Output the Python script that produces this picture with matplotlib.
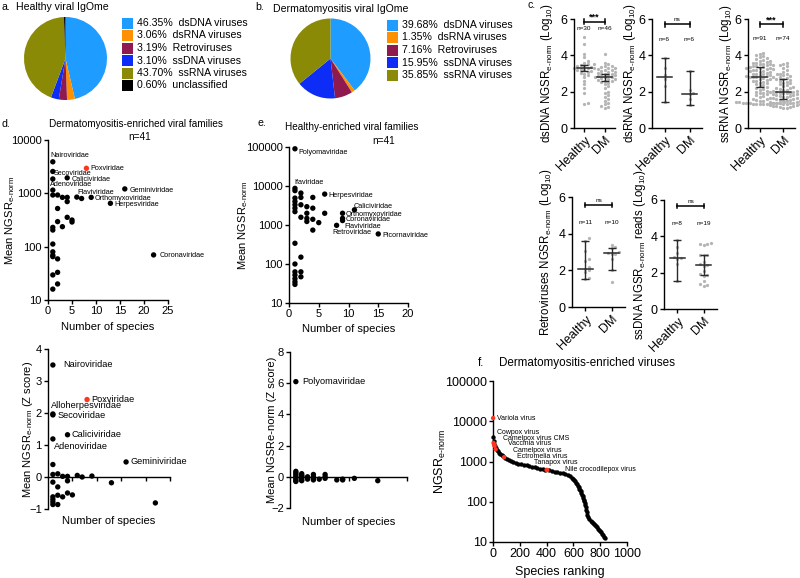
import numpy as np
import matplotlib
matplotlib.use('Agg')
import matplotlib.pyplot as plt
from matplotlib.patches import Rectangle
from matplotlib.ticker import NullLocator

plt.rcParams['font.family'] = ['Liberation Sans', 'DejaVu Sans']
plt.rcParams['mathtext.fontset'] = 'custom'
plt.rcParams['mathtext.rm'] = 'Liberation Sans'
plt.rcParams['mathtext.it'] = 'Liberation Sans:italic'
plt.rcParams['mathtext.bf'] = 'Liberation Sans:bold'
plt.rcParams['mathtext.default'] = 'regular'
plt.rcParams['axes.linewidth'] = 1.0

# ---------------- data ----------------
pie_names = ['dsDNA viruses', 'dsRNA viruses', 'Retroviruses', 'ssDNA viruses',
             'ssRNA viruses', 'unclassified']
healthy_pct = [46.35, 3.06, 3.19, 3.10, 43.70, 0.60]
dm_pct = [39.68, 1.35, 7.16, 15.95, 35.85]
pie_colors = ['#1e9cff', '#ff9000', '#8e1a50', '#0d2cf5', '#8a8a06', '#000000']

groups = ['Healthy', 'DM']
dsDNA_h = [5.0, 4.6, 4.1, 3.9, 3.7, 3.6, 3.5, 3.5, 3.45, 3.4, 3.4, 3.35, 3.3, 3.3, 3.3,
           3.25, 3.2, 3.2, 3.15, 3.1, 3.05, 3.0, 2.9, 2.8, 2.6, 2.4, 2.2, 1.9, 1.35, 1.3]
dsDNA_dm = [4.1, 3.6, 3.5, 3.4, 3.4, 3.35, 3.3, 3.3, 3.25, 3.2, 3.2, 3.15, 3.1, 3.1, 3.05,
            3.0, 3.0, 2.95, 2.9, 2.9, 2.85, 2.8, 2.8, 2.8, 2.75, 2.7, 2.7, 2.65, 2.6, 2.6,
            2.55, 2.5, 2.4, 2.3, 2.2, 2.0, 1.9, 1.8, 1.7, 1.6, 1.5, 1.4, 1.3, 1.2, 1.15, 1.1]
dsRNA_h = [3.85, 3.3, 2.9, 2.7, 2.3, 1.45]
dsRNA_dm = [3.15, 2.1, 1.9, 1.85, 1.6, 1.25]
ssRNA_h = [4.15, 4.1, 4.0, 3.95, 3.9, 3.85, 3.8, 3.75, 3.7, 3.7,
           3.65, 3.6, 3.6, 3.55, 3.5, 3.5, 3.45, 3.45, 3.4, 3.4,
           3.35, 3.35, 3.3, 3.3, 3.3, 3.25, 3.25, 3.2, 3.2, 3.15,
           3.15, 3.1, 3.1, 3.05, 3.0, 3.0, 2.95, 2.95, 2.9, 2.9,
           2.85, 2.85, 2.8, 2.8, 2.8, 2.8, 2.75, 2.7, 2.7, 2.65,
           2.6, 2.6, 2.55, 2.5, 2.45, 2.4, 2.35, 2.3, 2.25, 2.2,
           2.15, 2.1, 2.05, 2.0, 1.95, 1.9, 1.85, 1.8, 1.75, 1.7,
           1.65, 1.6, 1.6, 1.55, 1.5, 1.5, 1.45, 1.45, 1.45, 1.4,
           1.4, 1.4, 1.35, 1.35, 1.35, 1.35, 1.3, 1.3, 1.3, 1.3, 1.3]
ssRNA_dm = [3.6, 3.5, 3.45, 3.4, 3.3, 3.2, 3.1, 3.0, 2.95, 2.9,
            2.85, 2.8, 2.75, 2.7, 2.7, 2.65, 2.6, 2.55, 2.5, 2.45,
            2.4, 2.35, 2.3, 2.25, 2.2, 2.2, 2.15, 2.1, 2.1, 2.05,
            2.05, 2.0, 2.0, 2.0, 1.95, 1.95, 1.9, 1.9, 1.85, 1.85,
            1.8, 1.8, 1.75, 1.75, 1.7, 1.7, 1.65, 1.65, 1.6, 1.6,
            1.55, 1.55, 1.5, 1.5, 1.5, 1.45, 1.45, 1.4, 1.4, 1.4,
            1.35, 1.35, 1.3, 1.3, 1.3, 1.25, 1.25, 1.2, 1.2, 1.2,
            1.15, 1.15, 1.1, 1.1]
retro_h = [3.75, 3.6, 3.05, 2.6, 2.5, 2.2, 2.1, 2.0, 1.9, 1.6, 1.55]
retro_dm = [3.4, 3.25, 3.2, 3.0, 2.95, 2.9, 2.9, 2.6, 2.0, 1.35]
ssDNA_h = [3.8, 3.4, 3.1, 2.85, 2.8, 2.75, 2.5, 1.55]
ssDNA_dm = [3.65, 3.6, 3.6, 3.55, 3.0, 3.0, 2.95, 2.6, 2.45, 2.4, 2.35, 2.1, 1.9, 1.85,
            1.8, 1.55, 1.4, 1.3, 1.25]
# median and error bar limits (Healthy, DM)
dsDNA_med, dsDNA_lo, dsDNA_hi = [3.3, 2.8], [3.12, 2.6], [3.45, 3.0]
dsRNA_med, dsRNA_lo, dsRNA_hi = [2.8, 1.88], [1.45, 1.25], [3.85, 3.15]
ssRNA_med, ssRNA_lo, ssRNA_hi = [2.8, 1.98], [2.25, 1.6], [3.35, 2.72]
retro_med, retro_lo, retro_hi = [2.1, 2.95], [1.55, 2.0], [3.62, 3.2]
ssDNA_med, ssDNA_lo, ssDNA_hi = [2.8, 2.42], [1.55, 1.85], [3.8, 3.0]

# d: dermatomyositis-enriched families
dfam_names = ['Nairoviridae', 'Poxviridae', 'Secoviridae', 'Caliciviridae', '', 'Adenoviridae',
              'Geminiviridae', 'Flaviviridae', 'Orthomyxoviridae', '', 'Herpesviridae',
              'Coronaviridae', '', '', '', '', '', '', '', '', '', '', '', '', '', '', '', '',
              '', '', '', '', '', '']
dfam_species = [1, 8, 1, 4, 1, 1, 16, 6, 9, 7, 13, 22, 1, 2, 3, 4, 4, 2, 4, 5, 5, 2, 3, 1, 1,
                1, 1, 1, 1, 2, 1, 2, 2, 1]
dfam_ngsr = [3900, 2950, 2570, 1950, 1860, 1150, 1210, 850, 840, 800, 650, 70, 930, 930, 840,
             840, 700, 520, 355, 316, 290, 295, 237, 230, 205, 112, 80, 69, 65, 59, 29.5, 33,
             20, 16]
dz_names = ['Nairoviridae', 'Poxviridae', 'Alloherpesviridae', 'Secoviridae', 'Caliciviridae',
            'Adenoviridae', 'Geminiviridae', '', '', '', '', '', '', '', '', '', '', '', '',
            '', '', '', '', '', '', '', '', '', '']
dz_species = [1, 8, 1, 1, 4, 1, 16, 1, 1, 2, 3, 4, 6, 7, 9, 13, 1, 2, 1, 2, 3, 4, 5, 1, 1,
              2, 22, 1, 4]
dz_score = [3.5, 2.42, 1.97, 1.94, 1.32, 1.19, 0.47, 0.39, 0.08, 0.1, 0.02, 0.02, 0.05, 0.0,
            0.03, -0.18, -0.16, -0.31, -0.62, -0.57, -0.62, -0.5, -0.56, -0.78, -0.86, -0.86,
            -0.81, -0.7, -0.12]

# e: healthy-enriched families
hfam_names = ['Polyomaviridae', 'Ifaviridae', '', 'Herpesviridae', 'Caliciviridae',
              'Orthomyxoviridae', 'Coronaviridae', 'Retroviridae', 'Flaviviridae',
              'Picornaviridae'] + [''] * 29
hfam_species = [1, 1, 1, 6, 11, 9, 9, 9, 8, 15,
                1, 1, 1, 1, 1, 1, 1, 1, 1, 1, 1, 1,
                2, 2, 2, 2, 2, 2, 2,
                3, 3, 3, 3,
                4, 4, 4, 4,
                5, 6]
hfam_ngsr = [90000, 8700, 7600, 6200, 2450, 2000, 1480, 1300, 980, 590,
             4900, 4000, 3300, 2700, 2200, 340, 100, 63, 52, 42, 35, 30,
             6600, 5100, 3300, 1580, 150, 63, 47,
             2950, 2000, 1480, 1230,
             5100, 2700, 1400, 740,
             1150, 2000]
hz_names = ['Polyomaviridae'] + [''] * 30
hz_species = [1, 1, 1, 1, 1, 1, 1, 1, 1, 2, 2, 2, 2, 2, 2, 3, 3, 4, 4, 4, 4, 5, 6, 6, 6, 8,
              9, 9, 11, 15, 2]
hz_score = [6.1, 0.35, 0.25, 0.15, 0.05, -0.05, -0.15, -0.25, -0.3, 0.2, 0.1, 0.0, -0.1,
            -0.2, -0.25, 0.0, -0.15, 0.15, 0.0, -0.1, -0.2, -0.15, 0.15, 0.0, -0.1, -0.2,
            -0.15, -0.2, -0.1, -0.25, 0.05]

# f: dermatomyositis-enriched viruses (ranked)
rank_all = [2, 6, 10, 15, 20, 28, 36, 45, 55, 65, 75, 90, 105, 120, 135, 150, 170, 190, 210,
            230, 250, 270, 290, 310, 330, 350, 370, 390, 420, 440, 460, 480, 500, 520, 540,
            560, 575, 588, 598, 607, 615, 622, 628, 634, 640, 645, 650, 655, 660, 664, 668,
            672, 676, 680, 684, 688, 692, 696, 700, 705, 712, 720, 728, 736, 744, 752, 760,
            768, 776, 784, 792, 800, 808, 816, 824, 832, 838]
ngsr_all = [4100, 3300, 2800, 2450, 2200, 1950, 1800, 1650, 1520, 1420, 1340, 1250, 1150,
            1060, 1010, 970, 930, 890, 860, 830, 800, 770, 745, 720, 695, 670, 650, 630, 600,
            580, 560, 540, 520, 505, 485, 460, 430, 400, 370, 345, 320, 295, 270, 250, 230,
            210, 195, 180, 165, 150, 138, 125, 113, 103, 92, 82, 72, 63, 55, 47, 41, 37, 34,
            32, 30, 28, 26, 24.5, 23, 21.5, 20, 19, 17.5, 16, 15, 13.5, 12.5]
pox_names = ['Variola virus', 'Cowpox virus', 'Camelpox virus CMS', 'Vaccinia virus',
             'Camelpox virus', 'Ectromelia virus', 'Tanapox virus', 'Nile crocodilepox virus']
pox_rank = [1, 4, 8, 12, 20, 83, 400, 405]
pox_ngsr = [12000, 2900, 2600, 2450, 2000, 1280, 620, 610]

# ---------------- figure ----------------
W, H = 800, 578
fig = plt.figure(figsize=(W / 100, H / 100), dpi=100)


def axpx(box):
    x0, y0, x1, y1 = box
    return fig.add_axes([x0 / W, 1 - y1 / H, (x1 - x0) / W, (y1 - y0) / H])


ov = fig.add_axes([0, 0, 1, 1])
ov.set_xlim(0, W)
ov.set_ylim(H, 0)
ov.axis('off')

RED = '#ff3520'
GRAY = '#b5b5b5'


def style(ax, fs):
    for s in ['top', 'right']:
        ax.spines[s].set_visible(False)
    ax.tick_params(direction='out', length=3, width=1, labelsize=fs, pad=1.5)


def label_pos(ax, box, xl_y=None, yl_x=None):
    x0, y0, x1, y1 = box
    if xl_y is not None:
        ax.xaxis.set_label_coords(0.5, (y1 - xl_y) / (y1 - y0))
    if yl_x is not None:
        ax.yaxis.set_label_coords((yl_x - x0) / (x1 - x0), 0.5)


# ---- panel a / b pies ----
def draw_pie(center, r, vals, legend_x, legend_y0):
    cx, cy = center
    ax = axpx((cx - r, cy - r, cx + r, cy + r))
    ax.pie(vals, colors=pie_colors[:len(vals)], startangle=90, counterclock=False,
           radius=1, wedgeprops=dict(linewidth=0))
    ax.set_xlim(-1, 1)
    ax.set_ylim(-1, 1)
    ax.set_aspect('equal')
    ax.axis('off')
    for i, v in enumerate(vals):
        yy = legend_y0 + 12.5 * i
        ov.add_patch(Rectangle((legend_x, yy - 5.5), 11, 11, color=pie_colors[i], lw=0))
        ov.text(legend_x + 15, yy, f'{v:.2f}%  {pie_names[i]}', fontsize=7.6,
                va='center', ha='left')


draw_pie((65.5, 58.5), 41.5, healthy_pct, 122, 23)
draw_pie((330.5, 58.5), 40, dm_pct, 387, 25)
ov.text(1, 7, 'a.', fontsize=7.6, va='center')
ov.text(16, 7, 'Healthy viral IgOme', fontsize=7.6, va='center')
ov.text(255, 7, 'b.', fontsize=7.6, va='center')
ov.text(273, 9, 'Dermatomyositis viral IgOme', fontsize=7.6, va='center')
ov.text(528, 5, 'c.', fontsize=7.6, va='center')


# ---- panel c ----
def swarm_x(vals, center, sx, sy, d):
    vals = np.asarray(vals, float)
    order = np.argsort(vals)
    placed = []
    xs = np.zeros(len(vals))
    cands = [0.0]
    for j in range(1, 80):
        cands += [j * d * 0.5, -j * d * 0.5]
    for i in order:
        ypx = vals[i] * sy
        off = 0.0
        for off in cands:
            if all((off - px) ** 2 + (ypx - py) ** 2 >= d * d * 0.95 for px, py in placed):
                break
        placed.append((off, ypx))
        xs[i] = center + off / sx
    return xs


def draw_c(box, dh, dd, med, lo, hi, sig, ylabel, yl_x, n_y, br_y):
    ax = axpx(box)
    style(ax, 9)
    x0, y0, x1, y1 = box
    sx = (x1 - x0) / 2.0
    sy = (y1 - y0) / 6.0
    for k, d in enumerate([dh, dd]):
        xs = swarm_x(d, k, sx, sy, 3.4)
        ax.scatter(xs, d, s=5.5, color=GRAY, linewidths=0, zorder=2, clip_on=False)
        ax.text(k, n_y, f'n={len(d)}', fontsize=4.6, ha='center', va='center')
    hw = 7.5 / sx
    for k in range(2):
        ax.plot([k - hw, k + hw], [med[k], med[k]], color='#2a2a2a', lw=1.1, zorder=3)
        ax.errorbar([k], [med[k]], yerr=[[med[k] - lo[k]], [hi[k] - med[k]]], fmt='none',
                    ecolor='#2a2a2a', elinewidth=1.0, capsize=3, capthick=1.0, zorder=3)
    ax.plot([0, 1], [br_y, br_y], color='k', lw=1.1, clip_on=False)
    for k in range(2):
        ax.plot([k, k], [br_y - 0.13, br_y + 0.13], color='k', lw=1.1, clip_on=False)
    if sig == 'ns':
        ax.text(0.5, br_y + 0.12, sig, fontsize=4.6, ha='center', va='bottom')
    else:
        ax.text(0.5, br_y + 0.02, sig, fontsize=6.5, fontweight='bold', ha='center',
                va='bottom')
    ax.set_xlim(-0.5, 1.5)
    ax.set_ylim(0, 6)
    ax.set_yticks([0, 2, 4, 6])
    ax.set_xticks([0, 1])
    ax.set_xticklabels(groups, rotation=45, ha='right', rotation_mode='anchor')
    ax.set_ylabel(ylabel, fontsize=8.3, va='center')
    label_pos(ax, box, yl_x=yl_x)
    return ax


SUB = r'$_{e\text{-}norm}$'
draw_c((574, 19, 615, 128), dsDNA_h, dsDNA_dm, dsDNA_med, dsDNA_lo, dsDNA_hi, '***',
       'dsDNA NGSR' + SUB + r' (Log$_{10}$)', 547, 5.45, 5.85)
draw_c((652, 19, 702, 128), dsRNA_h, dsRNA_dm, dsRNA_med, dsRNA_lo, dsRNA_hi, 'ns',
       'dsRNA NGSR' + SUB + r' (Log$_{10}$)', 630, 4.85, 5.7)
draw_c((748, 19, 795, 128), ssRNA_h, ssRNA_dm, ssRNA_med, ssRNA_lo, ssRNA_hi, '***',
       'ssRNA NGSR' + SUB + r' (Log$_{10}$)', 726, 4.95, 5.7)
draw_c((572, 197, 625, 307), retro_h, retro_dm, retro_med, retro_lo, retro_hi, 'ns',
       'Retroviruses NGSR' + SUB + r' (Log$_{10}$)', 546, 4.6, 5.56)
draw_c((664, 200, 717, 309), ssDNA_h, ssDNA_dm, ssDNA_med, ssDNA_lo, ssDNA_hi, 'ns',
       'ssDNA NGSR' + SUB + r' reads (Log$_{10}$)', 640, 4.73, 5.67)


# ---- family scatter helper ----
def fam_scatter(ax, xs, ys, names, fs, offsets, red_names=('Poxviridae',), s=15):
    cols = [RED if n in red_names else 'k' for n in names]
    ax.scatter(xs, ys, s=s, c=cols, linewidths=0, zorder=3, clip_on=False)
    for x, y, n in zip(xs, ys, names):
        if n:
            dx, dy = offsets.get(n, (4, 0))
            ax.annotate(n, (x, y), xytext=(dx * 0.72, -dy * 0.72),
                        textcoords='offset points', fontsize=fs, va='center', ha='left')


def log_axis(ax, ticks):
    ax.set_yscale('log')
    ax.set_yticks(ticks)
    ax.set_yticklabels([str(t) for t in ticks])
    ax.yaxis.set_minor_locator(NullLocator())


# ---- panel d top ----
boxd = (48, 140, 168, 300)
ax = axpx(boxd)
style(ax, 8)
log_axis(ax, [10, 100, 1000, 10000])
ax.set_ylim(10, 10000)
ax.set_xlim(0, 25)
ax.set_xticks([0, 5, 10, 15, 20, 25])
offs_d = {'Nairoviridae': (-2, -6.7), 'Poxviridae': (3.6, 0.5), 'Secoviridae': (1.2, 1.6),
          'Caliciviridae': (4.5, 1.6), 'Adenoviridae': (-2.8, -5.7),
          'Flaviviridae': (0.5, -5), 'Orthomyxoviridae': (3.8, 1),
          'Geminiviridae': (5.2, 1.7), 'Herpesviridae': (4, 1), 'Coronaviridae': (5.7, 1)}
fam_scatter(ax, dfam_species, dfam_ngsr, dfam_names, 5.2, offs_d)
ax.set_xlabel('Number of species', fontsize=8, va='center')
ax.set_ylabel('Mean NGSR' + SUB, fontsize=8, va='center')
label_pos(ax, boxd, xl_y=327, yl_x=10)
ov.text(1, 124, 'd.', fontsize=7.6, va='center')
ov.text(49, 124, 'Dermatomyositis-enriched viral families', fontsize=7.2, va='center')
ov.text(128, 137, 'n=41', fontsize=7.2, va='center')

# ---- panel d bottom ----
boxdz = (48, 349, 170, 509)
ax = axpx(boxdz)
style(ax, 8)
ax.spines['bottom'].set_position(('data', 0))
ax.set_xlim(0, 25)
ax.set_ylim(-1, 4)
ax.set_yticks([-1, 0, 1, 2, 3, 4])
ax.set_xticks([5, 10, 15, 20, 25])
ax.set_xticklabels([])
offs_dz = {'Nairoviridae': (10.4, 0), 'Poxviridae': (4, 0), 'Alloherpesviridae': (-2.3, -8),
           'Secoviridae': (5, 0.3), 'Caliciviridae': (4, 0), 'Adenoviridae': (1, 7.7),
           'Geminiviridae': (4.7, 0)}
fam_scatter(ax, dz_species, dz_score, dz_names, 6.6, offs_dz)
ax.set_xlabel('Number of species', fontsize=8, va='center')
ax.set_ylabel('Mean NGSR' + SUB + ' (Z score)', fontsize=8, va='center')
ax.xaxis.set_label_coords(0.5, (509 - 521) / 160)
ax.yaxis.set_label_coords((28 - 48) / 122, 0.5)

# ---- panel e top ----
boxe = (289, 147, 408, 303)
ax = axpx(boxe)
style(ax, 8)
log_axis(ax, [10, 100, 1000, 10000, 100000])
ax.set_ylim(10, 100000)
ax.set_xlim(0, 20)
ax.set_xticks([0, 5, 10, 15, 20])
offs_e = {'Polyomaviridae': (3.3, 3.7), 'Ifaviridae': (-1, -5.6), 'Herpesviridae': (3.5, 1),
          'Caliciviridae': (-1.3, -3.6), 'Orthomyxoviridae': (2.7, 1.7),
          'Coronaviridae': (2.7, 1.2), 'Retroviridae': (-10, 11.6), 'Flaviviridae': (8, 1),
          'Picornaviridae': (4.3, 1.3)}
fam_scatter(ax, hfam_species, hfam_ngsr, hfam_names, 5.2, offs_e, red_names=())
ax.set_xlabel('Number of species', fontsize=8, va='center')
ax.set_ylabel('Mean NGSR' + SUB, fontsize=8, va='center')
label_pos(ax, boxe, xl_y=329, yl_x=243)
ov.text(257, 123, 'e.', fontsize=7.6, va='center')
ov.text(285, 127, 'Healthy-enriched viral families', fontsize=7.2, va='center')
ov.text(372, 141, 'n=41', fontsize=7.2, va='center')

# ---- panel e bottom ----
boxez = (290, 352, 407, 508)
ax = axpx(boxez)
style(ax, 8)
ax.spines['bottom'].set_position(('data', 0))
ax.set_xlim(0, 20)
ax.set_ylim(-2, 8)
ax.set_yticks([-2, 0, 2, 4, 6, 8])
ax.set_xticks([5, 10, 15, 20])
ax.set_xticklabels([])
fam_scatter(ax, hz_species, hz_score, hz_names, 6.6, {'Polyomaviridae': (6.3, 0)},
            red_names=())
ax.set_xlabel('Number of species', fontsize=8, va='center')
ax.set_ylabel('Mean NGSRe-norm (Z score)', fontsize=8, va='center')
ax.xaxis.set_label_coords(0.5, (508 - 522) / 156)
ax.yaxis.set_label_coords((272 - 290) / 117, 0.5)

# ---- panel f ----
boxf = (493, 381, 627, 542)
ax = axpx(boxf)
style(ax, 9)
log_axis(ax, [10, 100, 1000, 10000, 100000])
ax.set_ylim(10, 100000)
ax.set_xlim(0, 1000)
ax.set_xticks([0, 200, 400, 600, 800, 1000])
ax.scatter(rank_all, ngsr_all, s=10, c='k', linewidths=0, zorder=3, clip_on=False)
offs_f = {'Variola virus': (4, 0), 'Cowpox virus': (3, -10.5),
          'Camelpox virus CMS': (9, -6.4), 'Vaccinia virus': (13, -2),
          'Camelpox virus': (17, 1), 'Ectromelia virus': (13, -0.7),
          'Tanapox virus': (-12.6, -7.3), 'Nile crocodilepox virus': (17.7, -0.6)}
fam_scatter(ax, pox_rank, pox_ngsr, pox_names, 5.0, offs_f, red_names=tuple(pox_names), s=10)
ax.set_xlabel('Species ranking', fontsize=9, va='center')
ax.set_ylabel('NGSR' + SUB, fontsize=9, va='center')
label_pos(ax, boxf, xl_y=572, yl_x=440)
ov.text(478, 363, 'f.', fontsize=8.4, va='center')
ov.text(675, 363, 'Dermatomyositis-enriched viruses', fontsize=8.4, va='center', ha='right')

fig.savefig('out.png', dpi=100)
